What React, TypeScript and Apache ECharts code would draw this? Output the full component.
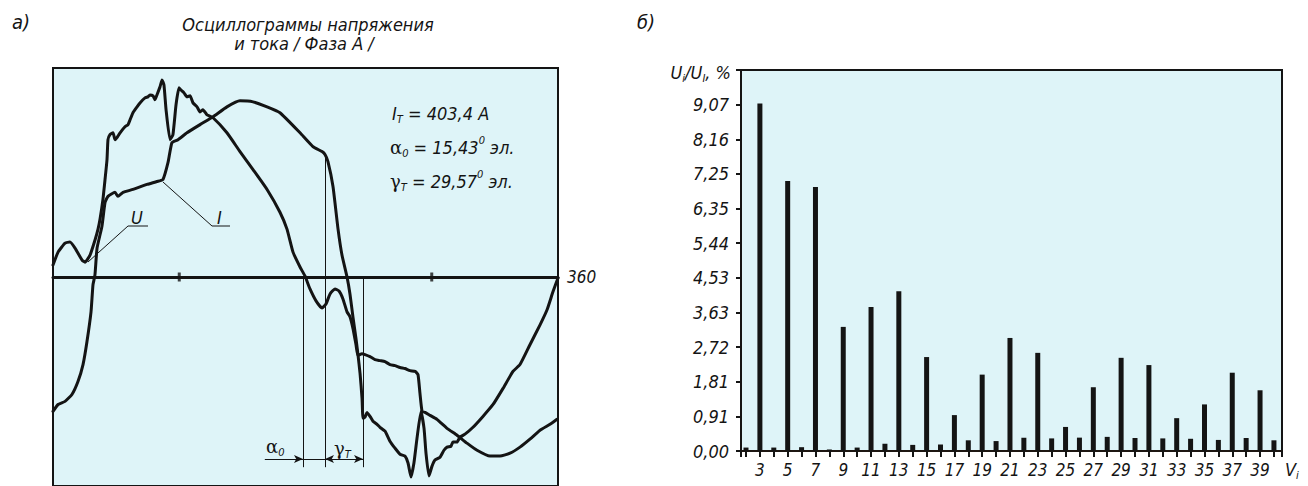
import React, { useEffect, useRef } from 'react';
import * as echarts from 'echarts';

const FONT = "'Liberation Sans Narrow', 'DejaVu Sans Condensed', 'Liberation Sans', Arial, sans-serif";
const INK = '#141414';
const PLOT_BG = '#def4f8';

// ---------- Panel а): oscillograms (x: electrical degrees, y: % of amplitude) ----------
const uDeg = [0, 3.6, 8.6, 12.1, 15.7, 20.7, 22.8, 26.4, 29.9, 32.1, 33.5, 35.6, 37.1, 38.5, 39.2, 40.6, 42.8, 44.2, 45.6, 47.8, 51.3, 53.5, 54.9, 57.0, 59.9, 62.0, 65.6, 67.7, 69.1, 71.3, 72.7, 74.1, 76.3, 77.7, 79.1, 80.6, 83.4, 85.5, 87.7, 89.8, 91.2, 93.4, 95.5, 97.7, 99.8, 102.7, 104.8, 106.9, 109.8, 114.1, 124.0, 133.3, 142.6, 152.6, 161.8, 166.8, 171.1, 176.1, 179.6, 183.2, 187.5, 191.8, 194.6, 197.5, 201.0, 203.9, 206.7, 209.6, 211.7, 213.9, 216.0, 217.4, 220.3, 222.4, 226.0, 229.5, 233.1, 236.7, 240.2, 243.8, 247.4, 250.9, 254.5, 258.1, 260.2, 261.6, 263.1, 265.2, 268.8, 273.7, 280.9, 288.0, 295.1, 302.3, 311.5, 318.7, 325.8, 332.9, 340.0, 347.2, 354.3, 359.3];
const uVal = [5.7, 11.9, 16.2, 16.7, 13.8, 8.1, 7.1, 10.5, 17.6, 22.9, 27.6, 37.1, 46.7, 56.2, 65.7, 68.1, 69.0, 65.7, 66.7, 69.0, 71.9, 72.9, 75.2, 78.6, 81.4, 83.3, 85.7, 86.2, 87.1, 86.7, 84.8, 87.1, 91.0, 94.3, 91.9, 80.0, 65.7, 68.1, 82.4, 90.5, 89.5, 88.1, 86.2, 86.7, 83.3, 81.4, 79.0, 80.0, 77.6, 76.2, 69.0, 60.0, 51.4, 41.9, 31.0, 22.9, 11.9, 4.8, 0.5, -5.7, -11.4, -14.8, -12.9, -8.1, -5.7, -6.7, -10.5, -16.7, -19.0, -24.8, -32.4, -37.6, -36.7, -37.1, -38.1, -39.5, -40.0, -40.5, -41.9, -42.4, -43.3, -43.8, -44.8, -45.2, -46.7, -55.7, -64.3, -64.8, -66.2, -68.1, -72.4, -75.7, -79.5, -82.9, -85.7, -85.7, -84.3, -81.4, -77.6, -73.3, -70.5, -68.1];

const iDeg = [0, 3.6, 8.6, 13.5, 17.8, 21.4, 24.2, 27.1, 28.5, 29.9, 31.4, 34.9, 37.1, 39.2, 44.2, 46.3, 49.9, 57.0, 67.0, 74.1, 78.4, 82.0, 84.8, 89.1, 95.5, 104.8, 114.1, 124.0, 133.3, 142.6, 152.6, 161.8, 176.1, 185.3, 191.8, 193.9, 196.0, 199.6, 203.2, 206.0, 209.6, 211.7, 213.9, 216.0, 217.4, 218.9, 220.3, 221.0, 222.4, 223.8, 226.0, 228.1, 231.0, 233.1, 236.7, 240.2, 243.8, 247.4, 250.9, 253.1, 255.2, 257.3, 259.5, 262.3, 264.5, 265.9, 268.0, 270.2, 272.3, 275.9, 278.7, 280.9, 283.7, 285.1, 288.0, 290.1, 293.7, 299.4, 306.5, 313.7, 320.8, 327.9, 332.9, 340.0, 347.2, 352.2, 356.4, 360];
const iVal = [-64.3, -61.0, -59.5, -56.2, -50.0, -41.9, -31.0, -16.7, -3.8, 1.0, 13.8, 24.3, 35.7, 38.6, 40.5, 38.6, 40.5, 41.9, 44.3, 45.7, 46.7, 54.8, 64.3, 65.7, 69.0, 72.9, 76.7, 81.4, 84.3, 83.8, 81.4, 78.6, 69.0, 62.4, 60.0, 58.6, 55.2, 43.3, 22.9, 10.5, 0, -8.1, -19.5, -29.5, -37.1, -46.2, -58.1, -67.6, -67.1, -64.8, -66.7, -69.0, -70.5, -71.9, -73.8, -78.6, -81.9, -84.8, -85.7, -89.0, -95.7, -89.0, -77.1, -64.3, -72.4, -84.3, -95.2, -90.5, -87.6, -86.2, -82.9, -81.4, -81.0, -79.0, -79.0, -76.7, -75.2, -71.9, -66.7, -61.0, -53.3, -45.2, -41.9, -32.4, -22.9, -15.7, -7.1, -0.5];

const axisMarkDeg = [90, 270];
// reference (measurement) lines: alpha0 start, commutation start, gamma end
const refLineDeg = [178.2, 193.9, 221.0];
const refLineTop = [0, 58.6, 0];
const refLineBottom = -91;
const arrowLevel = -87.1;
const alphaArrowFrom = 151;

// ---------- Panel б): harmonic spectrum ----------
const harmonics = [2, 3, 4, 5, 6, 7, 8, 9, 10, 11, 12, 13, 14, 15, 16, 17, 18, 19, 20, 21, 22, 23, 24, 25, 26, 27, 28, 29, 30, 31, 32, 33, 34, 35, 36, 37, 38, 39, 40];
const harmonicValues = [0.09, 9.1, 0.09, 7.07, 0.1, 6.91, 0.04, 3.25, 0.09, 3.77, 0.19, 4.18, 0.16, 2.46, 0.17, 0.94, 0.28, 2.0, 0.26, 2.96, 0.35, 2.57, 0.33, 0.63, 0.35, 1.67, 0.37, 2.44, 0.34, 2.25, 0.33, 0.86, 0.32, 1.22, 0.29, 2.05, 0.34, 1.59, 0.28];
const yTickLabels = ['0,00', '0,91', '1,81', '2,72', '3,63', '4,53', '5,44', '6,35', '7,25', '8,16', '9,07'];
const yStep = 0.907;
const xLabelHarmonics = [3, 5, 7, 9, 11, 13, 15, 17, 19, 21, 23, 25, 27, 29, 31, 33, 35, 37, 39];

const txt = (x: number, y: number, text: string, size: number, align = 'left', rich?: any) => ({
  type: 'text',
  x,
  y,
  silent: true,
  z: 10,
  style: {
    text,
    fontFamily: FONT,
    fontStyle: 'italic',
    fontSize: size,
    fill: INK,
    align,
    verticalAlign: 'middle',
    rich,
  },
});

const subRich = (size: number) => ({
  m: { fontFamily: FONT, fontStyle: 'italic', fontSize: size, fill: INK, lineHeight: size + 6, verticalAlign: 'middle' },
  g: { fontFamily: "'DejaVu Serif', 'Liberation Serif', serif", fontSize: size, fill: INK, lineHeight: size + 6, verticalAlign: 'middle' },
  sub: { fontFamily: FONT, fontStyle: 'italic', fontSize: Math.round(size * 0.62), fill: INK, verticalAlign: 'bottom', lineHeight: size * 0.9 },
  sup: { fontFamily: FONT, fontStyle: 'italic', fontSize: Math.round(size * 0.62), fill: INK, verticalAlign: 'top', lineHeight: size * 1.2 },
});

export default function App() {
  const ref = useRef<HTMLDivElement>(null);

  useEffect(() => {
    if (!ref.current) return;
    const chart = echarts.init(ref.current, null, { renderer: 'svg' });

    const uData = uDeg.map((d, i) => [d, uVal[i]]);
    const iData = iDeg.map((d, i) => [d, iVal[i]]);

    const lineSeg = (x1: number, y1: number, x2: number, y2: number, s1 = 'none', s2 = 'none') => [
      { coord: [x1, y1], symbol: s1, symbolSize: [6, 9] },
      { coord: [x2, y2], symbol: s2, symbolSize: [6, 9] },
    ];

    const markLines = [
      ...refLineDeg.map((d, i) => lineSeg(d, refLineTop[i], d, refLineBottom)),
      lineSeg(alphaArrowFrom, arrowLevel, refLineDeg[0], arrowLevel, 'none', 'arrow'),
      lineSeg(refLineDeg[0], arrowLevel, refLineDeg[1], arrowLevel),
      lineSeg(refLineDeg[1], arrowLevel, refLineDeg[2], arrowLevel, 'arrow', 'arrow'),
    ];

    const option: any = {
      animation: false,
      backgroundColor: '#ffffff',
      grid: [
        { left: 53, top: 68, width: 505, height: 420, show: true, backgroundColor: PLOT_BG, borderColor: INK, borderWidth: 2 },
        { left: 741, top: 70, width: 541, height: 381, show: true, backgroundColor: PLOT_BG, borderColor: INK, borderWidth: 2 },
      ],
      xAxis: [
        {
          gridIndex: 0,
          type: 'value',
          min: 0,
          max: 360,
          axisLine: { show: true, onZero: true, lineStyle: { color: INK, width: 3 } },
          axisTick: { show: false },
          axisLabel: { show: false },
          splitLine: { show: false },
          name: '360',
          nameLocation: 'end',
          nameGap: 9,
          nameTextStyle: { fontFamily: FONT, fontStyle: 'italic', fontSize: 17, color: INK },
        },
        {
          gridIndex: 1,
          type: 'value',
          min: 1.64,
          max: 40.58,
          splitNumber: 40,
          axisLine: { show: true, onZero: false, lineStyle: { color: '#1d1612', width: 2 } },
          axisTick: { show: true, length: 6, lineStyle: { color: INK, width: 2 } },
          axisLabel: {
            show: true,
            margin: 10,
            fontFamily: FONT,
            fontStyle: 'italic',
            fontSize: 17,
            color: INK,
            showMinLabel: true,
            showMaxLabel: true,
            formatter: (v: number) => {
              const r = Math.round(v);
              return Math.abs(v - r) < 1e-6 && xLabelHarmonics.includes(r) ? String(r) : '';
            },
          },
          splitLine: { show: false },
        },
      ],
      yAxis: [
        {
          gridIndex: 0,
          type: 'value',
          min: -100,
          max: 100,
          show: false,
        },
        {
          gridIndex: 1,
          type: 'value',
          min: 0,
          max: yStep * 11,
          interval: yStep,
          axisLine: { show: true, lineStyle: { color: INK, width: 2 } },
          axisTick: { show: true, length: 5, lineStyle: { color: INK, width: 2 } },
          axisLabel: {
            margin: 12,
            fontFamily: FONT,
            fontStyle: 'italic',
            fontSize: 18,
            color: INK,
            formatter: (v: number) => {
              const idx = Math.round(v / yStep);
              return Math.abs(v - idx * yStep) < 1e-3 && idx < yTickLabels.length ? yTickLabels[idx] : '';
            },
          },
          splitLine: { show: false },
        },
      ],
      series: [
        {
          name: 'U',
          type: 'line',
          xAxisIndex: 0,
          yAxisIndex: 0,
          data: uData,
          symbol: 'none',
          smooth: 0.15,
          lineStyle: { color: INK, width: 3, cap: 'round', join: 'round' },
          markLine: {
            silent: true,
            label: { show: false },
            lineStyle: { color: INK, width: 1, type: 'solid' },
            data: markLines,
          },
          z: 3,
        },
        {
          name: 'I',
          type: 'line',
          xAxisIndex: 0,
          yAxisIndex: 0,
          data: iData,
          symbol: 'none',
          smooth: 0.15,
          lineStyle: { color: INK, width: 3, cap: 'round', join: 'round' },
          z: 3,
        },
        {
          name: 'marks',
          type: 'scatter',
          xAxisIndex: 0,
          yAxisIndex: 0,
          data: axisMarkDeg.map((d) => [d, 0]),
          symbol: 'rect',
          symbolSize: [3, 9],
          itemStyle: { color: INK },
          silent: true,
          z: 4,
        },
        {
          name: 'Ui/UI',
          type: 'bar',
          xAxisIndex: 1,
          yAxisIndex: 1,
          data: harmonics.map((h, i) => [h, harmonicValues[i]]),
          barWidth: 5,
          itemStyle: { color: INK },
          silent: true,
        },
      ],
      graphic: [
        txt(12, 22, 'а)', 20),
        txt(637, 22, 'б)', 20),
        txt(308, 24, 'Осциллограммы напряжения', 18, 'center'),
        txt(304, 43, 'и тока / Фаза А /', 18, 'center'),
        txt(392, 113, '{m|I}{sub|T}{m| = 403,4 A}', 18, 'left', subRich(18)),
        txt(390, 147, '{g|α}{sub|0}{m| = 15,43}{sup|0}{m| эл.}', 18, 'left', subRich(18)),
        txt(390, 181, '{g|γ}{sub|T}{m| = 29,57}{sup|0}{m| эл.}', 18, 'left', subRich(18)),
        txt(131, 217, 'U', 18),
        txt(217, 217, 'I', 18),
        txt(266, 446, '{g|α}{sub|0}', 18, 'left', subRich(18)),
        txt(334, 448, '{g|γ}{sub|T}', 18, 'left', subRich(18)),
        txt(731, 72, '{m|U}{sub|i}{m|/U}{sub|I}{m|, %}', 18, 'right', subRich(18)),
        txt(1285, 469, '{m|V}{sub|i}', 18, 'left', subRich(18)),
        {
          type: 'polyline',
          silent: true,
          z: 10,
          shape: { points: [[148, 226], [128, 226], [88, 262]] },
          style: { stroke: INK, lineWidth: 1, fill: null },
        },
        {
          type: 'polyline',
          silent: true,
          z: 10,
          shape: { points: [[230, 226], [212, 226], [163, 182]] },
          style: { stroke: INK, lineWidth: 1, fill: null },
        },
      ],
    };

    chart.setOption(option);
    return () => chart.dispose();
  }, []);

  return (
    <div
      ref={ref}
      style={{ position: 'absolute', left: 0, top: 0, width: 1308, height: 486, background: '#fff' }}
    />
  );
}
